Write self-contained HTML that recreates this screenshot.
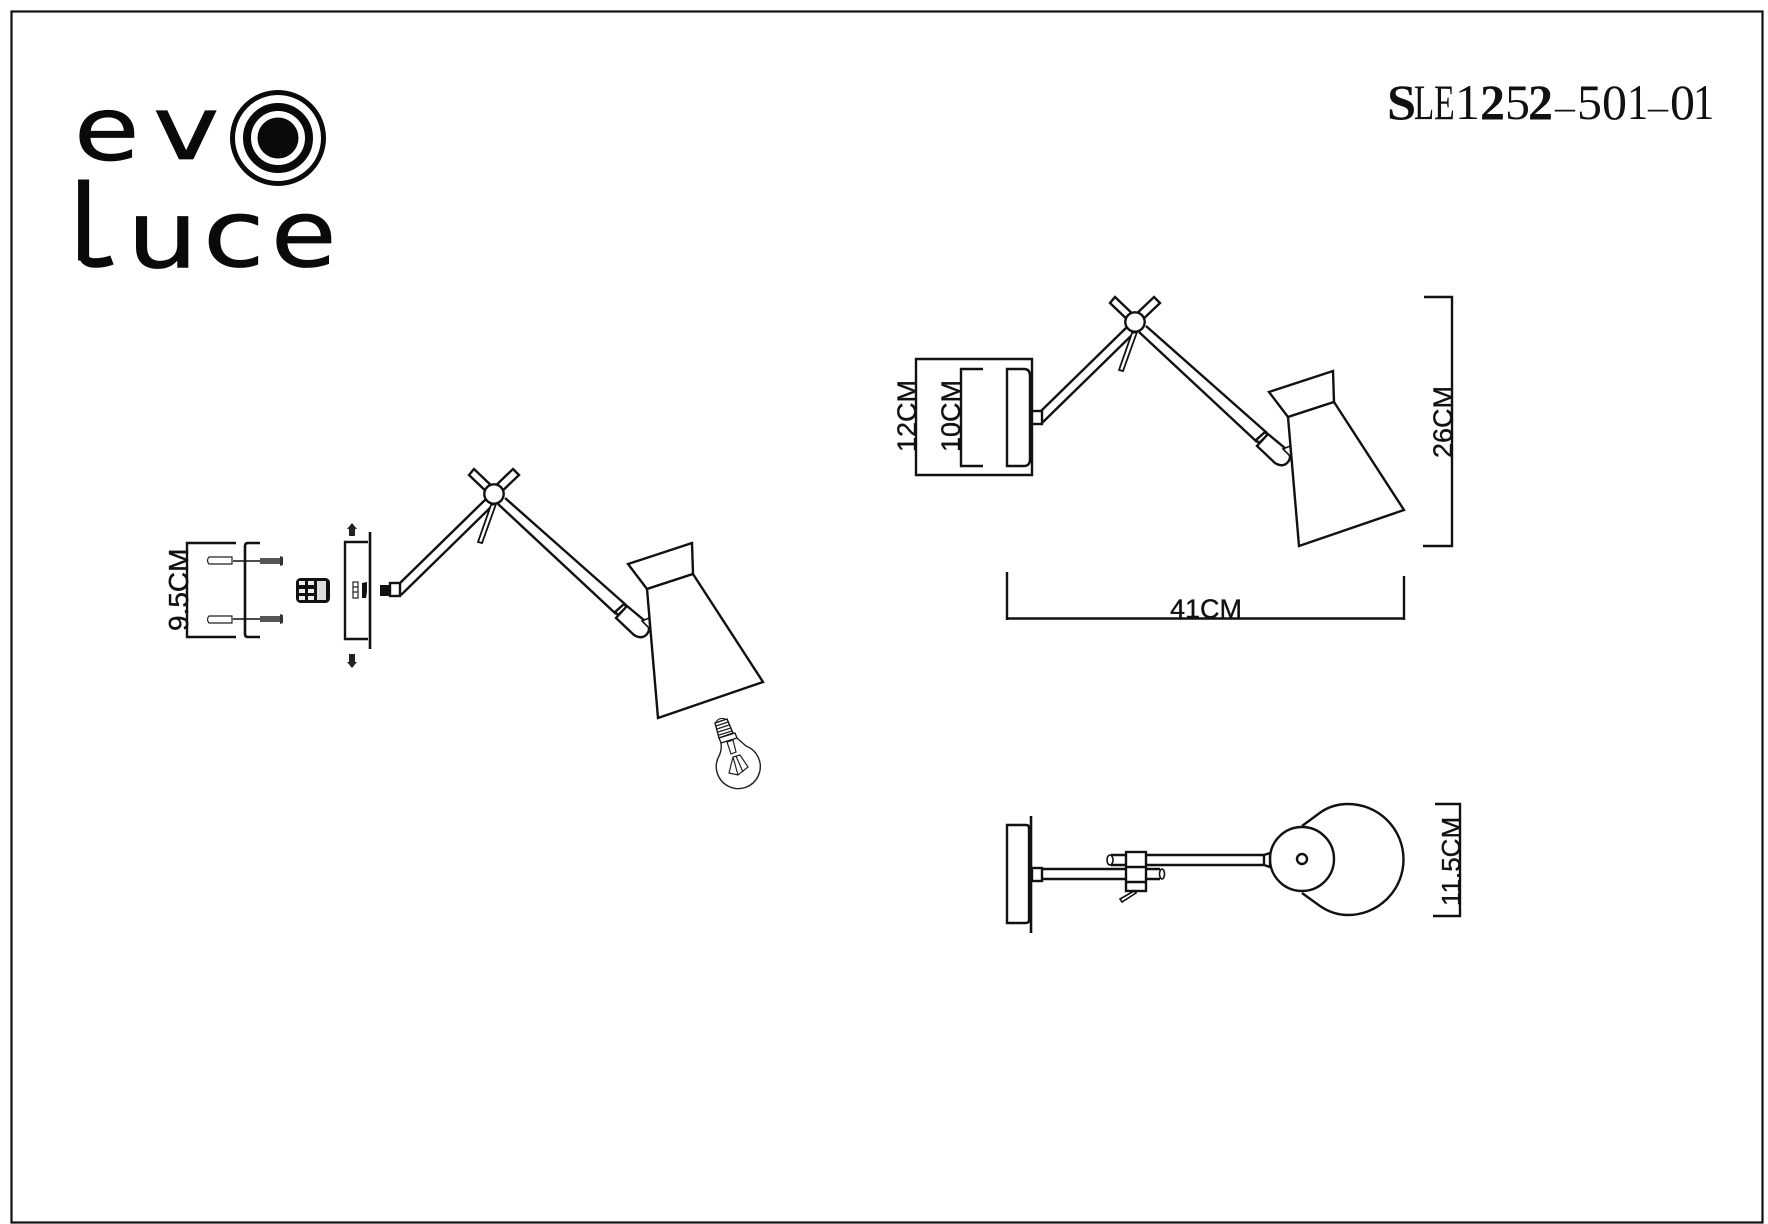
<!DOCTYPE html>
<html lang="en">
<head>
<meta charset="utf-8">
<title>SLE1252-501-01</title>
<style>
html,body{margin:0;padding:0;background:#fff;}
svg{display:block;}
.l{fill:none;stroke:#111;stroke-width:2.4;}
.w{fill:#fff;stroke:#111;stroke-width:2.4;}
.t{fill:none;stroke:#222;stroke-width:1.2;}
.dim{font-family:"Liberation Sans",sans-serif;font-size:27px;fill:#111;stroke:#111;stroke-width:.35;}
.logo{font-family:"DejaVu Sans",sans-serif;font-size:112px;fill:#0a0a0a;stroke:#0a0a0a;stroke-width:1;}
.code{font-family:"Liberation Serif",serif;font-size:50px;fill:#111;}
</style>
</head>
<body>
<svg width="1768" height="1224" viewBox="0 0 1768 1224" xmlns="http://www.w3.org/2000/svg">
<defs>
  <g id="lamp">
    <path class="l" d="M1041 411L1127 327M1042 423L1132 335"/>
    <path class="w" d="M1110 303L1115 297L1138 319L1133 325Z"/>
    <path class="w" d="M1154 297L1160 303L1137 325L1131 319Z"/>
    <path class="w" d="M1132 333L1137 332L1123 371L1119 370Z" style="stroke-width:1.8"/>
    <path class="l" d="M1146 326L1267 433M1139 332L1257 442"/>
    <circle class="w" cx="1135" cy="322" r="9.7"/>
    <path class="w" d="M1256 440L1265 432L1268 435L1259 443Z"/>
    <path class="w" d="M1268 434L1286 449Q1293 456 1288 462Q1283 468 1275 463L1257 446Z"/>
    <path class="w" d="M1283 449L1290 446L1291 457Z" style="stroke-width:1.6"/>
    <path class="w" d="M1269 392L1333 371L1334 402L1288 417Z"/>
    <path class="w" d="M1288 417L1334 402L1404 510L1299 546Z"/>
  </g>
</defs>

<rect x="11.5" y="11.5" width="1751" height="1211" fill="none" stroke="#111" stroke-width="2.2"/>

<!-- logo -->
<text class="logo" transform="translate(74 160) scale(.95 .79)">e</text>
<text class="logo" transform="translate(153 159) scale(1 .79)">v</text>
<circle cx="278" cy="138" r="45.5" fill="none" stroke="#0a0a0a" stroke-width="5"/>
<circle cx="278" cy="138" r="31" fill="none" stroke="#0a0a0a" stroke-width="8"/>
<circle cx="278" cy="138" r="20.5" fill="#0a0a0a"/>
<text class="logo" transform="translate(68 260) scale(1 .94)">l</text>
<path d="M83 252Q83 263 95 263Q104 263 112 260" fill="none" stroke="#0a0a0a" stroke-width="9.5"/>
<text class="logo" transform="translate(127 267) scale(1 .83)">u</text>
<text class="logo" transform="translate(203 266) scale(1 .83)">c</text>
<text class="logo" transform="translate(271 266) scale(.95 .83)">e</text>

<!-- model code -->
<text class="code" font-weight="bold" transform="translate(1387 119) scale(1.05 1)">S</text>
<text class="code" transform="translate(1414 119) scale(.66 1)">L</text>
<text class="code" transform="translate(1434 119) scale(.68 1)">E</text>
<text class="code" x="1455" y="119">1</text>
<text class="code" x="1480" y="119" font-weight="bold">2</text>
<text class="code" x="1505" y="119">5</text>
<text class="code" x="1528" y="119" font-weight="bold">2</text>
<text class="code" transform="translate(1555 119) scale(.8 .7)">–</text>
<text class="code" x="1577" y="119">5</text>
<text class="code" x="1602" y="119">0</text>
<text class="code" transform="translate(1627 119) scale(.85 1)">1</text>
<text class="code" transform="translate(1648 119) scale(.8 .7)">–</text>
<text class="code" x="1670" y="119">0</text>
<text class="code" transform="translate(1693 119) scale(.85 1)">1</text>

<!-- right side view -->
<use href="#lamp"/>
<path class="l" d="M916 359H1032V475H916Z"/>
<path class="l" d="M983 369H961V466H983"/>
<path class="l" d="M1007 369H1024Q1030 369 1030 376V459Q1030 466 1024 466H1007Z"/>
<rect class="w" x="1032" y="411" width="10" height="13"/>
<text class="dim" transform="translate(916 452) rotate(-90)">12CM</text>
<text class="dim" transform="translate(960 452) rotate(-90)">10CM</text>

<path class="l" d="M1007 572V620M1007 618.5H1404M1404 576V620"/>
<text class="dim" x="1170" y="618">41CM</text>
<path class="l" d="M1424 297H1452V546H1423"/>
<text class="dim" transform="translate(1452 458) rotate(-90)">26CM</text>

<!-- left exploded view -->
<use href="#lamp" transform="translate(-641 172)"/>
<rect class="w" x="390" y="583" width="10" height="13"/>
<rect x="380" y="585" width="10" height="11" fill="#111"/>
<path class="l" d="M370 532V649" style="stroke-width:2.6"/>
<path class="l" d="M368 542H345V639H368"/>
<rect x="353" y="582" width="5" height="16" fill="#fff" stroke="#222" stroke-width="1.2"/>
<path d="M353 587H358M353 592H358" stroke="#222" stroke-width="1.2"/>
<path d="M362 583L367 582V592L366 598H362Z" fill="#111"/>
<path d="M352 523L357 529H355V536H349V529H347Z" fill="#222"/>
<path d="M352 668L357 662H355V654H349V662H347Z" fill="#222"/>

<rect x="296.500" y="578.500" width="33" height="24" rx="4" fill="#111" stroke="#111"/>
<g fill="#eee">
  <rect x="299" y="581" width="6" height="4"/><rect x="308" y="581" width="6" height="4"/>
  <rect x="299" y="589" width="6" height="4"/><rect x="308" y="589" width="6" height="4"/>
  <rect x="299" y="596" width="6" height="4"/><rect x="308" y="596" width="6" height="4"/>
  <rect x="317" y="581" width="9" height="19" fill="#ddd"/>
</g>

<path class="l" d="M236 543H187V637H236"/>
<text class="dim" transform="translate(188 631) rotate(-90)" style="font-size:28px">9.5CM</text>
<path class="l" d="M260 543H248Q245 543 245 546V634Q245 637 248 637H260" style="stroke-width:2.6"/>
<g>
  <path class="t" d="M209 557H232V564H209Q206 560.500 209 557Z"/>
  <path class="l" d="M233 561H260" style="stroke-width:1.6"/>
  <rect x="260" y="558" width="20" height="6" fill="#555"/>
  <path d="M280 556L283 557V565L280 566Z" fill="#333"/>
</g>
<g>
  <path class="t" d="M209 616H232V623H209Q206 619.500 209 616Z"/>
  <path class="l" d="M233 619H260" style="stroke-width:1.6"/>
  <rect x="260" y="616" width="20" height="6" fill="#555"/>
  <path d="M280 614L283 615V623L280 624Z" fill="#333"/>
</g>

<!-- bulb -->
<g>
  <path class="t" d="M721 743Q722 750 719 756A22 22 0 1 0 746 746L737 738" style="stroke-width:1.4"/>
  <path class="w" d="M715 723L727 719L733 733L719 738Z" style="stroke-width:1.4"/>
  <path d="M716 726L728 722M717 729L729 725M718 732L731 728M719 735L732 731" stroke="#222" stroke-width="1.2"/>
  <path class="t" d="M716 722Q719 717 725 719"/>
  <path class="w" d="M719 738L735 733L737 738L721 743Z" style="stroke-width:1.3"/>
  <path class="t" d="M727 742L733 740L736 752L731 754ZM729 773L733 757L740 755L748 767L738 775ZM733 757L738 775M736 756L743 772"/>
</g>

<!-- top view -->
<path class="l" d="M1031 816V933" style="stroke-width:2.6"/>
<path class="l" d="M1026 825H1007V923H1026Q1029 923 1029 920V828Q1029 825 1026 825Z"/>
<path class="l" d="M1042 869H1160M1042 879H1160"/>
<ellipse class="l" cx="1162" cy="874" rx="2.500" ry="5" style="stroke-width:1.6"/>
<rect class="w" x="1032" y="868" width="10" height="13"/>
<path class="l" d="M1126 855H1111M1126 865H1111M1146 855H1264M1146 865H1264"/>
<ellipse class="l" cx="1110" cy="860" rx="3" ry="5" style="stroke-width:1.6"/>
<rect class="w" x="1126" y="852" width="20" height="39"/>
<path class="l" d="M1126 867H1146M1126 882H1146"/>
<path class="w" d="M1120 899L1134 891L1136 893L1122 902Z" style="stroke-width:1.6"/>
<path class="l" d="M1302 826L1321 812Q1333 804 1348 804A55.500 55.500 0 0 1 1348 915Q1333 915 1320 906L1302 893"/>
<circle class="w" cx="1302" cy="859" r="32"/>
<circle class="l" cx="1302" cy="859" r="5"/>
<path class="w" d="M1264 855L1270 853V867L1264 865Z"/>
<path class="l" d="M1435 804H1460V916H1433"/>
<text class="dim" transform="translate(1460 906) rotate(-90)" style="font-size:26px">11.5CM</text>
</svg>
</body>
</html>
